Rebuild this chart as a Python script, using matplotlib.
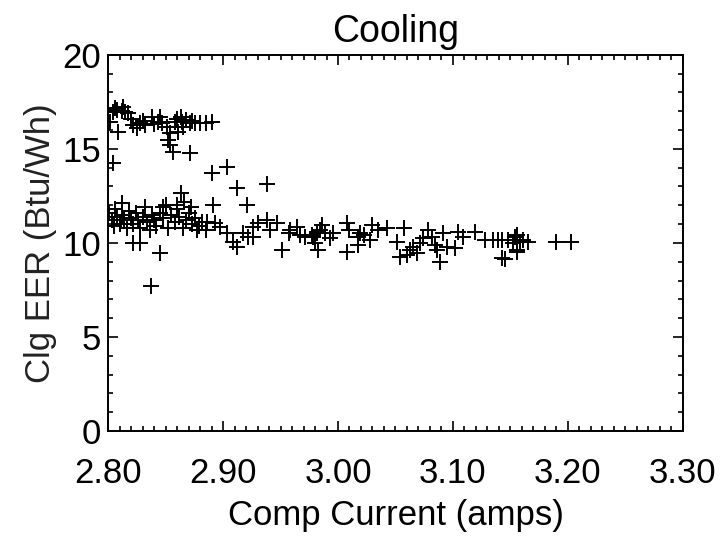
import matplotlib
matplotlib.use("Agg")
import matplotlib.pyplot as plt
from matplotlib.ticker import MultipleLocator, FormatStrFormatter

plt.rcParams['font.family'] = ['Liberation Sans', 'DejaVu Sans']

# upper group (high EER readings)
amps_hi = [2.804, 2.808, 2.812, 2.815, 2.817, 2.802, 2.809, 2.822, 2.825, 2.828,
           2.832, 2.838, 2.843, 2.845, 2.847, 2.851, 2.854, 2.852, 2.854, 2.856,
           2.858, 2.863, 2.864, 2.865, 2.861, 2.871, 2.876, 2.880, 2.890, 2.871,
           2.804, 2.890, 2.903, 2.912, 2.938, 2.863, 2.891, 2.921, 2.845, 2.837,
           2.806, 2.813, 2.820, 2.830, 2.840, 2.860, 2.868, 2.873, 2.885]
eer_hi = [16.97, 17.07, 17.02, 16.97, 16.91, 16.44, 15.90, 16.28, 16.12, 16.38,
          16.28, 16.70, 16.44, 16.70, 16.38, 16.17, 15.85, 15.48, 15.21, 14.84,
          16.44, 16.70, 16.44, 16.17, 15.90, 16.38, 16.38, 16.38, 16.44, 14.79,
          14.26, 13.72, 14.04, 12.93, 13.14, 12.66, 12.02, 12.02, 9.47, 7.71,
          17.20, 17.25, 16.60, 16.50, 16.30, 16.60, 16.55, 16.50, 16.40]

# main band
amps_lo = [2.801, 2.803, 2.805, 2.806, 2.808, 2.810, 2.812, 2.814, 2.816, 2.818,
           2.820, 2.822, 2.824, 2.826, 2.828, 2.830, 2.832, 2.834, 2.836, 2.838,
           2.840, 2.842, 2.845, 2.848, 2.850, 2.852, 2.855, 2.858, 2.860, 2.862,
           2.865, 2.868, 2.870, 2.873, 2.876, 2.879, 2.882, 2.885, 2.822, 2.828,
           2.860, 2.866, 2.872, 2.848, 2.812,
           2.877, 2.886, 2.893, 2.897, 2.903, 2.909, 2.912, 2.917, 2.922, 2.926,
           2.926, 2.930, 2.938, 2.941, 2.947, 2.951, 2.957, 2.958, 2.964, 2.967,
           2.978, 2.980, 2.982, 2.971, 2.977, 2.982, 2.984, 2.986, 2.989, 2.993,
           2.996, 2.983, 3.008, 3.010, 3.017, 3.019, 3.023, 3.028, 3.030, 3.035,
           3.043, 3.008, 3.017, 3.051, 3.057, 3.054, 3.060, 3.063, 3.065, 3.069,
           3.071, 3.074, 3.078, 3.082, 3.084, 3.086, 3.089, 3.091, 3.095, 3.102,
           3.104, 3.109, 3.119, 3.128, 3.135, 3.139, 3.143, 3.143, 3.148, 3.152,
           3.156, 3.156, 3.158, 3.161, 3.154, 3.165, 3.145, 3.156, 3.190, 3.203]
eer_lo = [11.6, 11.2, 10.9, 11.8, 11.4, 11.0, 11.5, 11.2, 10.8, 11.7,
          11.3, 11.0, 11.6, 11.2, 10.8, 11.4, 11.9, 11.1, 10.7, 11.5,
          11.2, 10.9, 11.6, 11.3, 12.0, 10.8, 11.5, 11.1, 11.8, 11.4,
          10.8, 11.2, 11.6, 11.0, 11.3, 10.9, 11.1, 10.7, 10.0, 10.0,
          12.0, 12.2, 11.9, 11.9, 12.1,
          10.69, 11.12, 11.06, 10.85, 10.53, 10.05, 9.79, 10.53, 10.32, 10.32,
          10.85, 11.06, 11.22, 10.69, 11.06, 9.63, 10.53, 10.69, 10.85, 10.43,
          10.32, 10.00, 10.53, 10.32, 10.43, 10.59, 10.69, 10.96, 10.53, 10.27,
          10.53, 9.63, 11.06, 10.69, 10.32, 10.53, 10.43, 10.16, 10.96, 10.69,
          10.80, 9.52, 9.89, 10.05, 10.80, 9.26, 9.36, 9.63, 9.79, 9.47,
          10.00, 10.27, 10.69, 10.32, 9.89, 9.63, 8.99, 10.53, 9.79, 9.73,
          10.59, 10.32, 10.59, 10.16, 10.16, 10.16, 10.16, 9.20, 10.16, 10.00,
          10.43, 9.63, 10.05, 10.16, 10.32, 10.05, 9.15, 9.52, 10.05, 10.05]

xticks = [2.80, 2.90, 3.00, 3.10, 3.20, 3.30]
yticks = [0, 5, 10, 15, 20]

fig = plt.figure(figsize=(7.21, 5.38), dpi=100)
ax = fig.add_axes([0.150, 0.199, 0.797, 0.699])

ax.plot(amps_hi + amps_lo, eer_hi + eer_lo, '+', color='black',
        markersize=12, markeredgewidth=1.4)

ax.set_xlim(2.80, 3.30)
ax.set_ylim(0, 20)
ax.set_xticks(xticks)
ax.set_yticks(yticks)
ax.xaxis.set_major_formatter(FormatStrFormatter('%.2f'))
ax.xaxis.set_minor_locator(MultipleLocator(0.01))
ax.yaxis.set_minor_locator(MultipleLocator(1))

ax.tick_params(which='both', direction='in', top=True, right=True,
               width=1.2, labelsize=25, colors='black')
ax.tick_params(which='major', length=7)
ax.tick_params(which='minor', length=3.5)
ax.tick_params(axis='x', pad=19)
ax.tick_params(axis='y', pad=5)
for s in ax.spines.values():
    s.set_linewidth(1.4)

ax.set_title('Cooling', fontsize=27, pad=9)
ax.set_xlabel('Comp Current (amps)', fontsize=25, labelpad=6)
ax.set_ylabel('Clg EER (Btu/Wh)', fontsize=25, labelpad=4, color='#222222')

fig.savefig('out.png', dpi=100)
